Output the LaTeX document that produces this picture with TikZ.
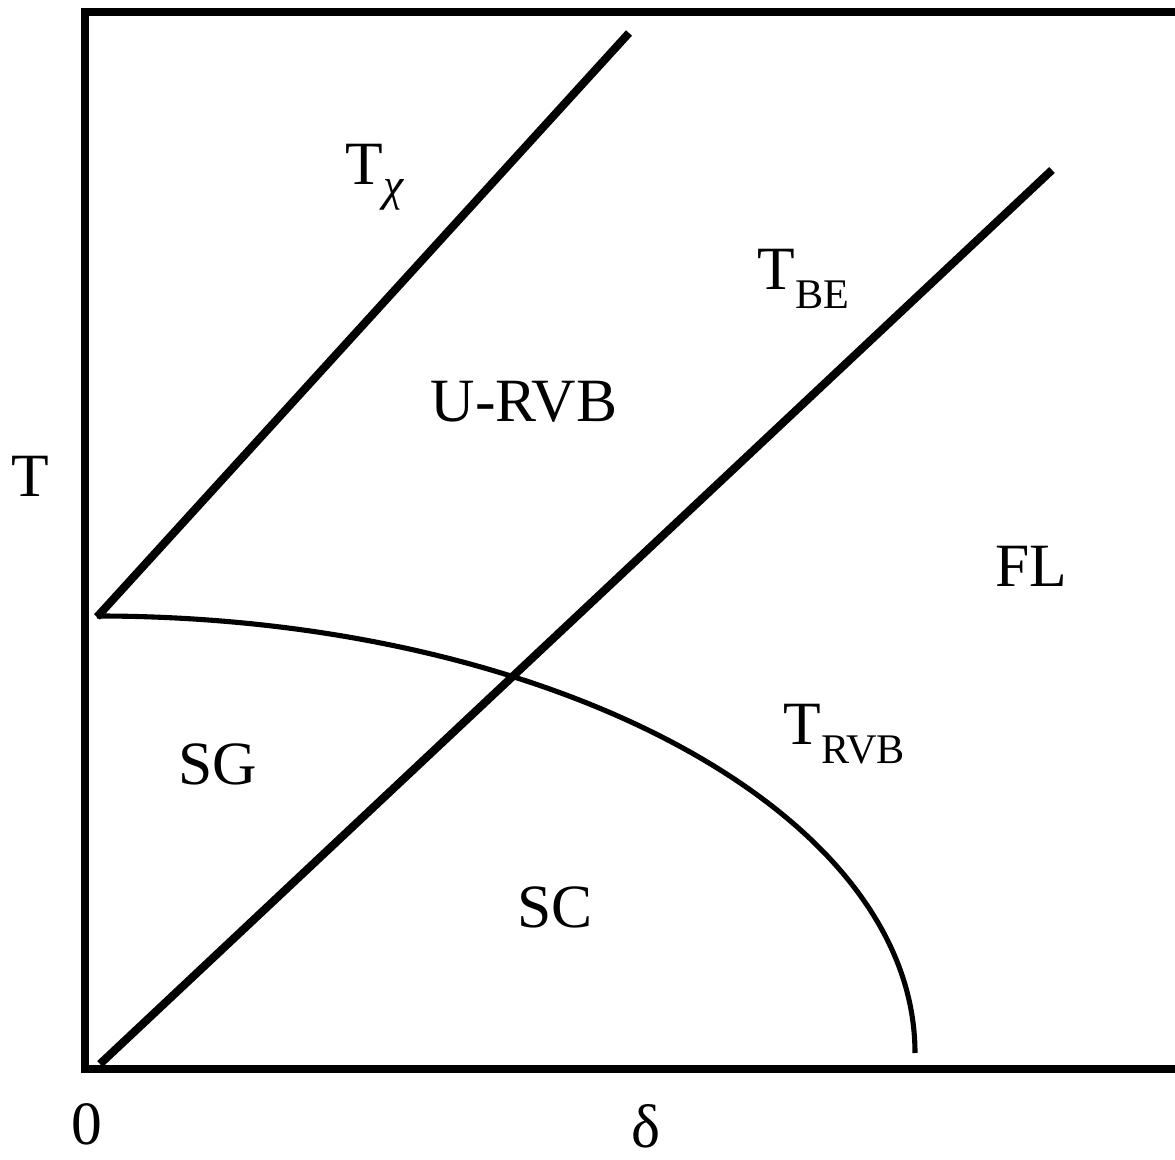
\documentclass[tikz,border=0pt]{standalone}
\usepackage{fontspec}
\setmainfont{Liberation Serif}
\usetikzlibrary{positioning}
\newcommand{\phsub}[1]{\raisebox{-5.3pt}{\fontsize{12}{13}\selectfont #1}}
\newcommand{\chisub}{\raisebox{-4.5pt}{\fontsize{13}{14}\selectfont\itshape χ}}

\begin{document}
\begin{tikzpicture}[
  x=0.01cm, y=0.01cm,
  font=\fontsize{17.5}{20}\selectfont,
  frame/.style={line width=2.15pt, line join=miter},
  bound/.style={line width=2.3pt},
  rvbline/.style={line width=1.45pt},
  phase/.style={inner sep=0pt, anchor=base},
  lab/.style={inner sep=0pt, anchor=base west}
]
  \useasboundingbox (0,0) rectangle (1175,1160);

  % axes
  \draw[frame] (1180,1148) -- (85,1148) -- (85,91) -- (1180,91);

  % crossover lines
  \coordinate (chi0) at (97,543);
  \coordinate (chi1) at (629,1127);
  \coordinate (be0) at (100,96);
  \coordinate (be1) at (1052,990);
  \coordinate (rvb0) at (97,544);
  \draw[bound] (chi0) -- (chi1);
  \draw[bound] (be0) -- (be1);
  \draw[rvbline] (rvb0) arc[start angle=90, end angle=0, x radius=818, y radius=437];

  % line labels
  \node[lab] (tchi) at (345,975) {T\chisub};
  \node[lab] (tbe) at (757,870) {T\phsub{BE}};
  \node[lab] (trvb) at (783,415) {T\phsub{RVB}};

  % phases
  \node[phase] (urvb) at (524,738) {U-RVB};
  \node[phase] (fl) at (1031,573) {FL};
  \node[phase] (sg) at (218,375) {SG};
  \node[phase] (sc) at (555,232) {SC};

  % axis labels
  \node[phase] (taxis) at (30,663) {T};
  \node[phase] (zero) at (87,15) {0};
  \node[phase] (delta) at (646,12) {δ};
\end{tikzpicture}
\end{document}
